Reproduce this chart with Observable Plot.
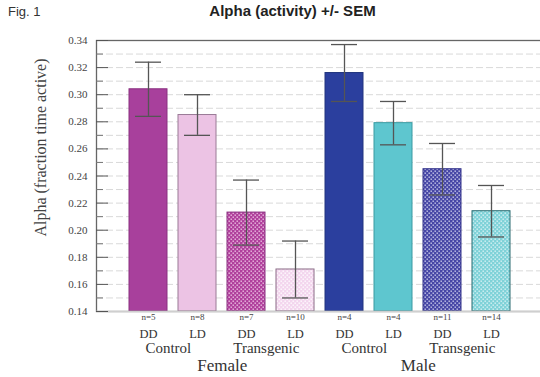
<!DOCTYPE html>
<html>
<head>
<meta charset="utf-8">
<script src="https://cdn.jsdelivr.net/npm/d3@7"></script>
<script src="https://cdn.jsdelivr.net/npm/@observablehq/plot@0.6"></script>
<style>
  body { margin: 0; background: #fff; }
  #wrap { position: relative; width: 540px; height: 377px; overflow: hidden; }
  #fig { position: absolute; left: 8px; top: 4px; font: 13px "Liberation Sans", Arial, sans-serif; color: #333; }
  #title { position: absolute; left: 0; width: 585px; top: 2px; text-align: center; font: bold 15px "Liberation Sans", Arial, sans-serif; color: #222; }
  svg { display: block; }
</style>
</head>
<body>
<div id="wrap">
  <div id="chart"></div>
  <div id="fig">Fig. 1</div>
  <div id="title">Alpha (activity) +/- SEM</div>
</div>
<script>
// ---- data ----
const sexes = ["Female", "Female", "Female", "Female", "Male", "Male", "Male", "Male"];
const conditions = ["Control", "Control", "Transgenic", "Transgenic", "Control", "Control", "Transgenic", "Transgenic"];
const lightings = ["DD", "LD", "DD", "LD", "DD", "LD", "DD", "LD"];
const nLabels = ["n=5", "n=8", "n=7", "n=10", "n=4", "n=4", "n=11", "n=14"];
const alpha = [0.304, 0.285, 0.213, 0.171, 0.316, 0.279, 0.245, 0.214];
const sem = [0.020, 0.015, 0.024, 0.021, 0.021, 0.016, 0.019, 0.019];
const yTicks = [0.14, 0.16, 0.18, 0.20, 0.22, 0.24, 0.26, 0.28, 0.30, 0.32, 0.34];
const yMinorTicks = [0.15, 0.17, 0.19, 0.21, 0.23, 0.25, 0.27, 0.29, 0.31, 0.33];

// ---- styles ----
const fills = ["#a8409c", "#ecc3e4", "url(#patFDD)", "url(#patFLD)", "#2b3f9e", "#5ec6cf", "url(#patMDD)", "url(#patMLD)"];
const strokes = ["#8a3080", "#9a7a96", "#8a3080", "#8a6a86", "#22357e", "#3a9aa2", "#33338a", "#2a6a70"];

const rows = alpha.map((a, i) => ({
  key: `${sexes[i]}-${conditions[i]}-${lightings[i]}`,
  sex: sexes[i], condition: conditions[i], light: lightings[i], n: nLabels[i],
  alpha: a, lo: a - sem[i], hi: a + sem[i], fill: fills[i], stroke: strokes[i], i
}));
const keys = rows.map(d => d.key);

const W = 540, H = 377, mL = 96, mR = -1, mT = 40, mB = 66;
const xRange = [121, 518];
const step = (xRange[1] - xRange[0]) / 8;
const frameW = W - mL - mR;
const serif = "'Liberation Serif', 'Times New Roman', serif";

const grid = yTicks.concat(yMinorTicks).filter(v => v > 0.14 && v < 0.34);
const groupRows = rows.filter((d, i) => i % 2 === 0);
const sexRows = [rows[1], rows[5]];

const plot = Plot.plot({
  width: W, height: H,
  marginLeft: mL, marginRight: mR, marginTop: mT, marginBottom: mB,
  x: { type: "band", domain: keys, range: xRange, paddingInner: 0.22, paddingOuter: 0.11, axis: null },
  y: { domain: [0.14, 0.34], axis: null },
  style: { fontFamily: serif, color: "#333", background: "transparent" },
  marks: [
    Plot.ruleY(grid, { stroke: "#d9d9d9", strokeDasharray: "7,3", strokeWidth: 1 }),
    Plot.barY(rows, { x: "key", y1: 0.14, y2: "alpha", fill: "fill", stroke: "stroke", strokeWidth: 1 }),
    Plot.ruleX(rows, { x: "key", y1: "lo", y2: "hi", stroke: "#555", strokeWidth: 1.3 }),
    Plot.tickY(rows, { x: "key", y: "hi", stroke: "#555", strokeWidth: 1.3, insetLeft: 6, insetRight: 6 }),
    Plot.tickY(rows, { x: "key", y: "lo", stroke: "#555", strokeWidth: 1.3, insetLeft: 6, insetRight: 6 }),
    Plot.frame({ stroke: "#666", strokeWidth: 1.3 }),
    Plot.ruleY([0.14], { stroke: "#cfcfcf", strokeWidth: 1.5 }),
    Plot.ruleY(yTicks, { stroke: "#555", insetRight: frameW - 12 }),
    Plot.ruleY(yMinorTicks, { stroke: "#777", insetRight: frameW - 7 }),
    Plot.axisY({ ticks: yTicks, tickSize: 0, tickPadding: 9, tickFormat: d3.format(".2f"), fontSize: 11, fill: "#444", label: null }),
    Plot.text(["Alpha (fraction time active)"], { frameAnchor: "left", textAnchor: "middle", y: 0.261, dx: -56, rotate: -90, fontSize: 16, fill: "#444", text: d => d }),
    Plot.text(rows, { x: "key", text: "n", frameAnchor: "bottom", dy: 6, lineAnchor: "middle", fontSize: 9, fill: "#444" }),
    Plot.text(rows, { x: "key", text: "light", frameAnchor: "bottom", dy: 22, lineAnchor: "middle", fontSize: 12.5, fill: "#333" }),
    Plot.text(groupRows, { x: "key", text: "condition", frameAnchor: "bottom", dx: step / 2 - 5, dy: 37, lineAnchor: "middle", fontSize: 15, fill: "#333" }),
    Plot.text(sexRows, { x: "key", text: "sex", frameAnchor: "bottom", dx: step / 2, dy: 54, lineAnchor: "middle", fontSize: 17, fill: "#333" })
  ]
});

// patterns for transgenic bars
const defs = d3.select(plot).insert("defs", ":first-child");
function pattern(id, base, dot, op) {
  const p = defs.append("pattern").attr("id", id).attr("patternUnits", "userSpaceOnUse").attr("width", 4).attr("height", 4);
  p.append("rect").attr("width", 4).attr("height", 4).attr("fill", base);
  p.append("rect").attr("x", 0.5).attr("y", 0.5).attr("width", 1.4).attr("height", 1.4).attr("fill", dot).attr("opacity", op);
  p.append("rect").attr("x", 2.5).attr("y", 2.5).attr("width", 1.4).attr("height", 1.4).attr("fill", dot).attr("opacity", op);
}
pattern("patFDD", "#b0409c", "#f4d0ec", 0.9);
pattern("patFLD", "#f3d6ee", "#ffffff", 0.9);
pattern("patMDD", "#4747a6", "#d8d8f2", 0.9);
pattern("patMLD", "#7fd2d8", "#e4f7f8", 0.9);

document.getElementById("chart").appendChild(plot);
</script>
</body>
</html>
